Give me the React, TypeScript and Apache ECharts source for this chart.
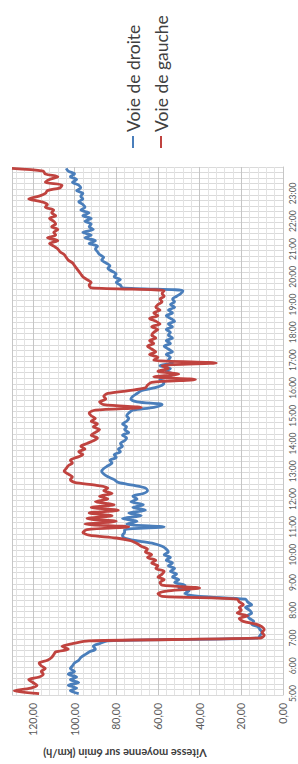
import React, { useEffect, useRef } from "react";
import * as echarts from "echarts";

// Time categories: one every 6 minutes from 5:00 to 23:54
const startHour = 5;
const endHour = 24;
const stepMinutes = 6;
const categories: string[] = [];
for (let m = startHour * 60; m < endHour * 60; m += stepMinutes) {
  categories.push(`${Math.floor(m / 60)}:${String(m % 60).padStart(2, "0")}`);
}

// Speeds (km/h), 10 values per hour, 5:00 -> 23:54
const voieDeDroite = [
  98, 102, 99, 103, 98, 102, 99, 103, 100, 102,
  101, 100, 98, 97, 95, 93, 90, 91, 88, 84,
  12, 11, 10, 11, 12, 15, 14, 16, 17, 15,
  16, 18, 15, 17, 18, 40, 47, 45, 50, 47,
  52, 50, 53, 51, 54, 52, 55, 53, 56, 54,
  57, 55, 56, 58, 62, 70, 76, 77, 76, 76,
  57, 75, 70, 77, 68, 74, 66, 72, 67, 73,
  70, 72, 67, 65, 66, 72, 79, 81, 84, 86,
  87, 86, 84, 82, 83, 80, 81, 78, 79, 77,
  78, 76, 75, 77, 74, 76, 75, 77, 75, 74,
  75, 74, 72, 62, 58, 70, 73, 72, 70, 68,
  62, 58, 57, 59, 55, 53, 56, 54, 59, 53,
  55, 54, 56, 53, 55, 57, 54, 56, 53, 55,
  54, 56, 53, 55, 52, 54, 56, 53, 55, 52,
  54, 52, 53, 51, 49, 48, 77, 78, 80, 78,
  81, 80, 82, 84, 83, 85, 87, 86, 88, 89,
  90, 89, 93, 90, 95, 92, 96, 91, 93, 92,
  95, 92, 96, 93, 97, 95, 96, 98, 96, 97,
  96, 99, 97, 98, 101, 99, 102, 100, 103, 104,
];

const voieDeGauche = [
  117, 129, 121, 118, 120, 122, 117, 115, 116, 114,
  116, 117, 113, 111, 110, 109, 103, 106, 101, 93,
  11, 9, 10, 9, 10, 13, 19, 21, 17, 22,
  20, 21, 19, 21, 22, 58, 60, 55, 40, 58,
  59, 57, 60, 58, 57, 61, 60, 63, 61, 65,
  63, 66, 65, 68, 70, 73, 80, 93, 96, 94,
  74, 95, 80, 94, 82, 93, 79, 92, 81, 90,
  84, 88, 82, 86, 84, 90, 100, 102, 101, 103,
  105, 104, 103, 101, 102, 99, 96, 98, 95, 97,
  94, 91, 89, 92, 90, 88, 91, 89, 92, 90,
  92, 93, 90, 68, 86, 88, 85, 86, 84, 74,
  66, 65, 63, 42, 62, 50, 60, 55, 58, 32,
  62, 60, 64, 61, 63, 65, 62, 64, 61, 63,
  62, 60, 63, 59, 61, 64, 60, 62, 59, 61,
  60, 58, 59, 57, 58, 57, 92, 93, 92, 94,
  96, 97, 98, 99, 100, 101, 103, 104, 105, 107,
  108, 110, 112, 108, 113, 109, 110, 108, 111, 109,
  110, 112, 109, 111, 110, 114, 113, 116, 122, 117,
  114, 113, 107, 106, 114, 112, 108, 114, 115, 130,
];

const seriesNames = ["Voie de droite", "Voie de gauche"];
const seriesColors = ["#4A7EBB", "#C0433F"];
const axisTitle = "Vitesse moyenne sur 6min (km/h)";
const speedMin = 0;
const speedMax = 130;
const speedStep = 20;

const FONT = "Lato, 'Liberation Sans', sans-serif";

export default function App() {
  const ref = useRef<HTMLDivElement>(null);

  useEffect(() => {
    if (!ref.current) return;
    const chart = echarts.init(ref.current, undefined, { renderer: "svg" });
    const option: any = {
      animation: false,
      backgroundColor: "#ffffff",
      grid: { left: 12, right: 15, top: 167, bottom: 69, containLabel: false },
      xAxis: {
        type: "value",
        position: "bottom",
        inverse: true,
        min: speedMin,
        max: speedMax,
        interval: speedStep,
        axisLine: { show: false },
        axisTick: { show: false },
        axisLabel: {
          rotate: 90,
          margin: 8,
          fontSize: 10.5,
          fontFamily: FONT,
          color: "#595959",
          showMaxLabel: false,
          formatter: (v: number) => (v > 120 ? "" : v.toFixed(2).replace(".", ",")),
        },
        splitLine: { show: true, lineStyle: { color: "#c6c6c6", width: 1 } },
        minorTick: { show: false, splitNumber: 5 },
        minorSplitLine: { show: true, lineStyle: { color: "#e3e3e3", width: 1 } },
      },
      yAxis: {
        type: "category",
        position: "right",
        data: categories,
        boundaryGap: true,
        axisLine: { show: true, onZero: false, lineStyle: { color: "#c6c6c6" } },
        axisTick: { show: false },
        axisLabel: {
          interval: 9,
          rotate: 90,
          margin: 5,
          fontSize: 8.5,
          fontFamily: FONT,
          color: "#595959",
        },
        splitLine: { show: true, interval: 1, lineStyle: { color: "#dadada", width: 1 } },
      },
      series: [
        {
          name: seriesNames[0],
          type: "line",
          data: voieDeDroite,
          showSymbol: false,
          smooth: 0.3,
          lineStyle: { width: 2.8, color: seriesColors[0] },
          itemStyle: { color: seriesColors[0] },
        },
        {
          name: seriesNames[1],
          type: "line",
          data: voieDeGauche,
          showSymbol: false,
          smooth: 0.3,
          lineStyle: { width: 2.8, color: seriesColors[1] },
          itemStyle: { color: seriesColors[1] },
        },
      ],
      graphic: [
        {
          type: "line",
          shape: { x1: 133, y1: 148, x2: 133, y2: 136 },
          style: { stroke: seriesColors[0], lineWidth: 2 },
        },
        {
          type: "text",
          x: 133,
          y: 132,
          rotation: Math.PI / 2,
          style: {
            text: seriesNames[0],
            fontSize: 17.5,
            fontFamily: FONT,
            fill: "#404040",
            align: "left",
            verticalAlign: "middle",
            textAlign: "left",
            textVerticalAlign: "middle",
          },
        },
        {
          type: "line",
          shape: { x1: 161, y1: 148, x2: 161, y2: 136 },
          style: { stroke: seriesColors[1], lineWidth: 2 },
        },
        {
          type: "text",
          x: 161,
          y: 132,
          rotation: Math.PI / 2,
          style: {
            text: seriesNames[1],
            fontSize: 17.5,
            fontFamily: FONT,
            fill: "#404040",
            align: "left",
            verticalAlign: "middle",
            textAlign: "left",
            textVerticalAlign: "middle",
          },
        },
        {
          type: "text",
          x: 125,
          y: 753,
          rotation: Math.PI,
          style: {
            text: axisTitle,
            fontSize: 11,
            fontWeight: "bold",
            fontFamily: FONT,
            fill: "#404040",
            align: "center",
            verticalAlign: "middle",
            textAlign: "center",
            textVerticalAlign: "middle",
          },
        },
      ],
    };
    chart.setOption(option);
    return () => chart.dispose();
  }, []);

  return (
    <div
      ref={ref}
      style={{ position: "absolute", left: 0, top: 0, width: 298, height: 764, background: "#fff" }}
    />
  );
}
